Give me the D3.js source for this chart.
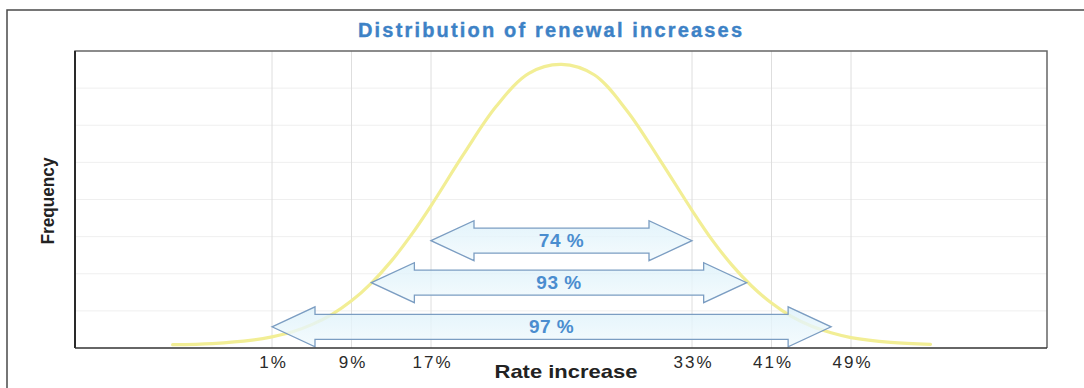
<!DOCTYPE html>
<html>
<head>
<meta charset="utf-8">
<script src="https://cdn.jsdelivr.net/npm/d3@7"></script>
<style>
  html, body { margin: 0; padding: 0; background: #fff; }
  svg { display: block; }
</style>
</head>
<body>
<svg id="chart" width="1084" height="388"></svg>
<script>
// ---------------- data ----------------
const chartTitle = "Distribution of renewal increases";
const xTitle = "Rate increase";
const yTitle = "Frequency";

// x tick values (rate increase, %) and their labels
const tickValues = [1, 9, 17, 33, 41, 49];
const tickLabels = ["1%", "9%", "17%", "33%", "41%", "49%"];

// distribution curve
const curveRate = [-9, -5, -1, 1, 3, 5, 7, 9, 11, 13, 15, 17, 19, 21, 23, 25, 27, 29, 31, 33, 35, 37, 39, 41, 43, 45, 47, 49, 53, 57];
const curveFreq = [0.09, 0.12, 0.21, 0.30, 0.43, 0.63, 0.90, 1.27, 1.75, 2.34, 3.04, 3.83, 5.22, 6.51, 7.40, 7.64, 7.36, 6.40, 5.09, 3.71, 2.92, 2.24, 1.67, 1.21, 0.85, 0.59, 0.41, 0.28, 0.15, 0.10];

// range arrows
const arrowLabels = ["74 %", "93 %", "97 %"];
const arrowFrom = [17, 11, 1];
const arrowTo = [33, 38.5, 47];
const arrowLevel = [2.89, 1.76, 0.57];

// ---------------- layout ----------------
const svg = d3.select("#chart");
const W = 1084, H = 388;
const plot = { left: 75, top: 51, right: 1047, bottom: 348 };

// broken (piecewise) x axis: the middle section is stretched
const x = d3.scaleLinear()
  .domain([1, 17, 33, 49])
  .range([plot.left + 197, plot.left + 356, plot.left + 617, plot.left + 776]);
const y = d3.scaleLinear().domain([0, 8]).range([plot.bottom, plot.top]);

const defs = svg.append("defs");
const grad = defs.append("linearGradient").attr("id", "arrowFill")
  .attr("x1", 0).attr("y1", 0).attr("x2", 0).attr("y2", 1);
grad.append("stop").attr("offset", "0%").attr("stop-color", "#dcf1fa");
grad.append("stop").attr("offset", "100%").attr("stop-color", "#f2fafd");

// outer frame
svg.append("path")
  .attr("d", d3.line()([[7, H], [7, 10], [W, 10]]))
  .attr("fill", "none").attr("stroke", "#4a4a4a").attr("stroke-width", 1.5);

// title
svg.append("text")
  .attr("x", 550).attr("y", 37)
  .attr("text-anchor", "middle")
  .attr("font-family", "Liberation Sans, Arial, sans-serif")
  .attr("font-weight", "bold").attr("font-size", 20)
  .attr("textLength", 384).attr("lengthAdjust", "spacing")
  .attr("fill", "#3d82c6").attr("stroke", "#3d82c6").attr("stroke-width", 0.4)
  .text(chartTitle);

// horizontal gridlines
svg.append("g").selectAll("line").data(d3.range(1, 8)).join("line")
  .attr("x1", plot.left).attr("x2", plot.right)
  .attr("y1", d => y(d)).attr("y2", d => y(d))
  .attr("stroke", "#efefef").attr("stroke-width", 1);

// vertical gridlines
svg.append("g").selectAll("line").data(tickValues).join("line")
  .attr("x1", d => x(d)).attr("x2", d => x(d))
  .attr("y1", plot.top).attr("y2", plot.bottom)
  .attr("stroke", "#dedede").attr("stroke-width", 1);

// curve
const line = d3.line()
  .x((d, i) => x(curveRate[i]))
  .y(d => y(d))
  .curve(d3.curveCatmullRom);
svg.append("path")
  .attr("d", line(curveFreq))
  .attr("fill", "none")
  .attr("stroke", "#f2ee95").attr("stroke-width", 3.2)
  .attr("stroke-linecap", "round");

// arrows
const headLen = 43, headHalf = 20, shaftHalf = 12.5;
const arrows = arrowLabels.map((lab, i) => ({ lab, from: arrowFrom[i], to: arrowTo[i], lvl: arrowLevel[i] }));
const ag = svg.append("g");
ag.selectAll("path").data(arrows).join("path")
  .attr("d", d => {
    const x1 = x(d.from), x2 = x(d.to), yc = y(d.lvl);
    return d3.line()([
      [x1, yc], [x1 + headLen, yc - headHalf], [x1 + headLen, yc - shaftHalf],
      [x2 - headLen, yc - shaftHalf], [x2 - headLen, yc - headHalf], [x2, yc],
      [x2 - headLen, yc + headHalf], [x2 - headLen, yc + shaftHalf],
      [x1 + headLen, yc + shaftHalf], [x1 + headLen, yc + headHalf]
    ]) + "Z";
  })
  .attr("fill", "url(#arrowFill)").attr("fill-opacity", 0.8)
  .attr("stroke", "#7b9dc2").attr("stroke-width", 1.3)
  .attr("stroke-linejoin", "miter");
ag.selectAll("text").data(arrows).join("text")
  .attr("x", d => (x(d.from) + x(d.to)) / 2)
  .attr("y", d => y(d.lvl) + 6.5)
  .attr("text-anchor", "middle")
  .attr("font-family", "Liberation Sans, Arial, sans-serif")
  .attr("font-weight", "bold").attr("font-size", 19)
  .attr("letter-spacing", 0.5)
  .attr("fill", "#4a8dcf")
  .text(d => d.lab);

// plot frame
svg.append("path")
  .attr("d", d3.line()([[plot.left, plot.bottom], [plot.left, plot.top], [plot.right, plot.top], [plot.right, plot.bottom]]))
  .attr("fill", "none").attr("stroke", "#666").attr("stroke-width", 1.5);
svg.append("line")
  .attr("x1", plot.left).attr("x2", plot.left).attr("y1", plot.top).attr("y2", plot.bottom)
  .attr("stroke", "#2a2a2a").attr("stroke-width", 2);

// x axis
const xAxis = d3.axisBottom(x)
  .tickValues(tickValues)
  .tickFormat((d, i) => tickLabels[i])
  .tickSize(0).tickPadding(8);
const gx = svg.append("g").attr("transform", `translate(0,${plot.bottom})`).call(xAxis);
gx.select(".domain").attr("stroke", "#333").attr("stroke-width", 1.5)
  .attr("d", `M${plot.left},0H${plot.right}`);
gx.selectAll("text")
  .attr("font-family", "Liberation Sans, Arial, sans-serif")
  .attr("font-size", 17).attr("letter-spacing", 2)
  .attr("dx", 1)
  .attr("fill", "#2a2a2a");

// axis titles
svg.append("text")
  .attr("x", 566).attr("y", 378)
  .attr("text-anchor", "middle")
  .attr("font-family", "Liberation Sans, Arial, sans-serif")
  .attr("font-weight", "bold").attr("font-size", 19)
  .attr("textLength", 143).attr("lengthAdjust", "spacingAndGlyphs")
  .attr("fill", "#222")
  .text(xTitle);
svg.append("text")
  .attr("transform", "translate(54,201) rotate(-90)")
  .attr("text-anchor", "middle")
  .attr("font-family", "Liberation Sans Narrow, Arial Narrow, Liberation Sans, sans-serif")
  .attr("font-weight", "bold").attr("font-size", 18)
  .attr("textLength", 87).attr("lengthAdjust", "spacingAndGlyphs")
  .attr("fill", "#222")
  .text(yTitle);
</script>
</body>
</html>
